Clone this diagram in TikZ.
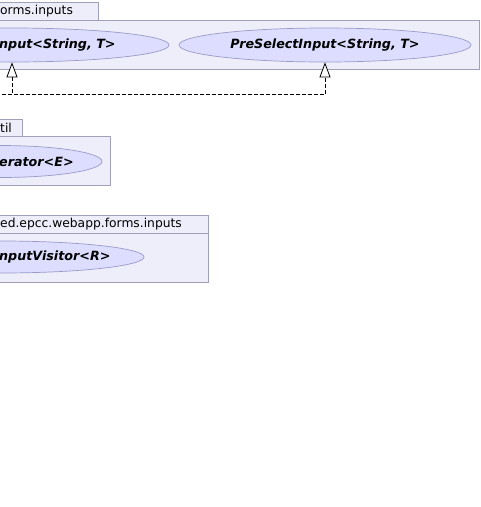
\documentclass[tikz,border=0pt]{standalone}
\usepackage{fontspec}
\setmainfont{DejaVu Sans}
\usetikzlibrary{shapes.geometric,arrows.meta}
\definecolor{pkgfill}{HTML}{EEEEFA}
\definecolor{pkgline}{HTML}{A0A0B8}
\definecolor{clsfill}{HTML}{DDDDFF}
\definecolor{clsline}{HTML}{9A9AC8}
\tikzset{
  pkgbox/.style={fill=pkgfill, draw=pkgline, line width=0.8pt},
  pkgtext/.style={font=\fontsize{12.3}{14}\selectfont, inner sep=0pt},
  iface/.style={ellipse, fill=clsfill, draw=clsline, line width=0.7pt, inner sep=0pt},
  ifacetext/.style={font=\fontsize{12.7}{15}\selectfont\bfseries\itshape, inner sep=0pt},
  realize/.style={dash pattern=on 4pt off 2pt, line width=0.8pt,
    -{Triangle[open, fill=white, length=15pt, width=11pt]}}
}

\begin{document}
\begin{tikzpicture}[x=1pt,y=-1pt]
  \useasboundingbox (0,0) rectangle (481,507);
  \clip (0,0) rectangle (481,507);
  % package of the two inputs
  \filldraw[pkgbox] (-20,2) rectangle (98,20);
  \filldraw[pkgbox] (-20,20) rectangle (479,69);
  \node[pkgtext, anchor=west] (pkgA) at (0,11) {orms.inputs};
  \node[iface, minimum width=314, minimum height=34] (inA) at (12,45) {};
  \node[ifacetext, anchor=west] (inAtext) at (-1,45) {nput<String, T>};
  \node[iface, ifacetext, minimum width=292, minimum height=34] (inB) at (325,45) {PreSelectInput<String, T>};
  % realizations
  \coordinate (impl) at (-10,94.5);
  \draw[realize] (impl) -| (inA.south);
  \draw[realize] (impl) -| (inB.south);

  % package util
  \filldraw[pkgbox] (-20,119) rectangle (22,136);
  \filldraw[pkgbox] (-20,136) rectangle (110,185);
  \node[pkgtext, anchor=west] (pkgB) at (0,127.5) {til};
  \node[iface, minimum width=204, minimum height=32] (iter) at (0,161.5) {};
  \node[ifacetext, anchor=west] (itertext) at (-1,161.5) {erator<E>};

  % package of the visitor
  \filldraw[pkgbox] (-20,215) rectangle (208,233);
  \filldraw[pkgbox] (-20,233) rectangle (208,282);
  \node[pkgtext, anchor=west] (pkgC) at (0,224) {ed.epcc.webapp.forms.inputs};
  \node[iface, minimum width=288, minimum height=32] (visit) at (0,257) {};
  \node[ifacetext, anchor=west] (visittext) at (-1,257) {nputVisitor<R>};
\end{tikzpicture}
\end{document}
